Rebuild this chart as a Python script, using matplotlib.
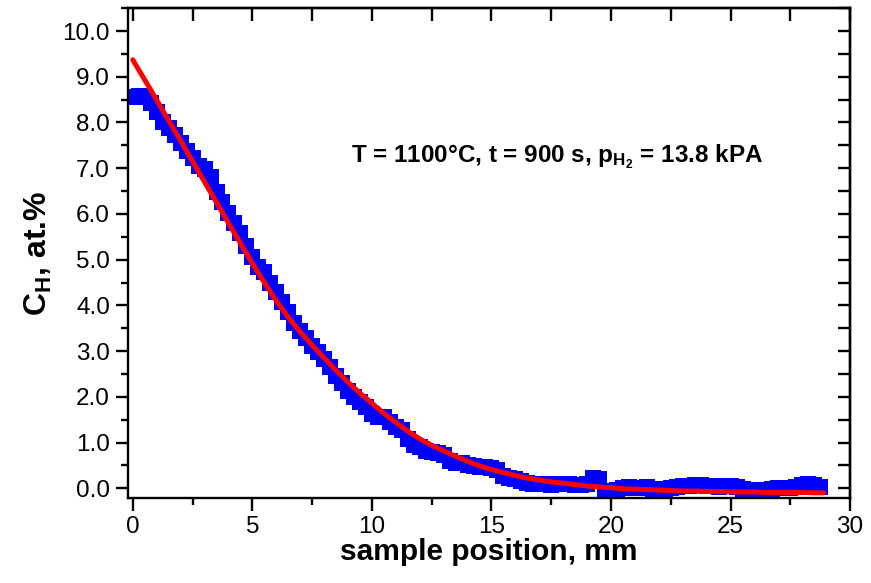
import matplotlib
matplotlib.use("Agg")
import matplotlib.pyplot as plt
from matplotlib.ticker import MultipleLocator, FormatStrFormatter

plt.rcParams["font.family"] = ["Liberation Sans", "DejaVu Sans"]
plt.rcParams["mathtext.fontset"] = "custom"
plt.rcParams["mathtext.rm"] = "Liberation Sans"
plt.rcParams["mathtext.bf"] = "Liberation Sans:bold"
plt.rcParams["mathtext.default"] = "bf"

BLUE = "#0000ff"
RED = "#ff0000"

# measured hydrogen profile (mm, at.%)
pos_mm = [
    0.00, 0.25, 0.50, 0.75, 1.00, 1.25, 1.50, 1.75, 2.00, 2.25, 2.50, 2.75,
    3.00, 3.25, 3.50, 3.75, 4.00, 4.25, 4.50, 4.75, 5.00, 5.25, 5.50, 5.75,
    6.00, 6.25, 6.50, 6.75, 7.00, 7.25, 7.50, 7.75, 8.00, 8.25, 8.50, 8.75,
    9.00, 9.25, 9.50, 9.75, 10.00, 10.25, 10.50, 10.75, 11.00, 11.25, 11.50, 11.75,
    12.00, 12.25, 12.50, 12.75, 13.00, 13.25, 13.50, 13.75, 14.00, 14.25, 14.50, 14.75,
    15.00, 15.25, 15.50, 15.75, 16.00, 16.25, 16.50, 16.75, 17.00, 17.25, 17.50, 17.75,
    18.00, 18.25, 18.50, 18.75, 19.00, 19.25, 19.50, 19.75, 20.00, 20.25, 20.50, 20.75,
    21.00, 21.25, 21.50, 21.75, 22.00, 22.25, 22.50, 22.75, 23.00, 23.25, 23.50, 23.75,
    24.00, 24.25, 24.50, 24.75, 25.00, 25.25, 25.50, 25.75, 26.00, 26.25, 26.50, 26.75,
    27.00, 27.25, 27.50, 27.75, 28.00, 28.25, 28.50, 28.75,
]
conc_meas = [
    8.55, 8.57, 8.55, 8.42, 8.22, 8.02, 7.88, 7.72, 7.55, 7.38, 7.22, 7.05,
    6.98, 6.80, 6.48, 6.25, 6.02, 5.80, 5.58, 5.30, 5.05, 4.85, 4.72, 4.50,
    4.30, 4.08, 3.86, 3.62, 3.45, 3.28, 3.12, 2.98, 2.82, 2.65, 2.45, 2.30,
    2.12, 2.00, 1.88, 1.78, 1.62, 1.56, 1.55, 1.45, 1.35, 1.28, 1.08, 0.95,
    0.90, 0.82, 0.80, 0.78, 0.72, 0.60, 0.55, 0.55, 0.52, 0.48, 0.46, 0.46,
    0.44, 0.40, 0.26, 0.22, 0.20, 0.16, 0.12, 0.10, 0.10, 0.10, 0.08, 0.10,
    0.10, 0.09, 0.08, 0.08, 0.10, 0.22, 0.20, -0.06, -0.08, -0.04, 0.00, 0.02,
    0.00, 0.00, 0.02, -0.02, -0.03, -0.02, 0.00, 0.02, 0.04, 0.06, 0.07, 0.07,
    0.06, 0.04, 0.03, 0.04, 0.04, 0.02, -0.02, -0.03, -0.04, -0.05, -0.04, -0.02,
    0.00, 0.01, 0.01, 0.03, 0.08, 0.09, 0.07, 0.03,
]

# fitted diffusion curve
fit_mm = [
    0.0, 0.5, 1.0, 1.5, 2.0, 2.5, 3.0, 3.5, 4.0, 4.5, 5.0, 5.5, 6.0, 6.5, 7.0,
    7.5, 8.0, 8.5, 9.0, 9.5, 10.0, 10.5, 11.0, 11.5, 12.0, 12.5, 13.0, 13.5,
    14.0, 14.5, 15.0, 15.5, 16.0, 16.5, 17.0, 17.5, 18.0, 18.5, 19.0, 19.5,
    20.0, 20.5, 21.0, 21.5, 22.0, 22.5, 23.0, 23.5, 24.0, 24.5, 25.0, 25.5,
    26.0, 26.5, 27.0, 27.5, 28.0, 28.5, 28.9,
]
conc_fit = [
    9.37, 8.93, 8.49, 8.04, 7.60, 7.15, 6.70, 6.25, 5.80, 5.36, 4.92, 4.50,
    4.10, 3.74, 3.42, 3.13, 2.85, 2.58, 2.32, 2.08, 1.86, 1.64, 1.44, 1.25,
    1.08, 0.94, 0.82, 0.70, 0.59, 0.49, 0.41, 0.34, 0.28, 0.22, 0.18, 0.14,
    0.11, 0.08, 0.05, 0.03, 0.01, -0.01, -0.02, -0.03, -0.04, -0.05, -0.06,
    -0.06, -0.07, -0.07, -0.08, -0.08, -0.08, -0.09, -0.09, -0.09, -0.09,
    -0.10, -0.10,
]

fig = plt.figure(figsize=(8.71, 5.83), dpi=100)
ax = fig.add_axes([0.147, 0.146, 0.829, 0.840])

ax.plot(pos_mm, conc_meas, linestyle="none", marker="s", markersize=11,
        markerfacecolor=BLUE, markeredgewidth=0, zorder=2)
ax.plot(fit_mm, conc_fit, color=RED, linewidth=3.6, solid_capstyle="round", zorder=3)

ax.set_xlim(-0.2, 30)
ax.set_ylim(-0.21, 10.5)

ax.xaxis.set_major_locator(MultipleLocator(5))
ax.xaxis.set_minor_locator(MultipleLocator(2.5))
ax.yaxis.set_major_locator(MultipleLocator(1))
ax.yaxis.set_minor_locator(MultipleLocator(0.5))
ax.yaxis.set_major_formatter(FormatStrFormatter("%.1f"))

for s in ax.spines.values():
    s.set_linewidth(1.7)

# left/bottom ticks outward, top/right inward
ax.tick_params(axis="both", which="major", labelsize=17.5, width=1.7, length=9,
               direction="out", top=False, right=False, pad=4)
ax.tick_params(axis="both", which="minor", width=1.7, length=5,
               direction="out", top=False, right=False)

ax_top = ax.secondary_xaxis("top")
ax_top.xaxis.set_major_locator(MultipleLocator(5))
ax_top.xaxis.set_minor_locator(MultipleLocator(2.5))
ax_top.tick_params(which="both", direction="in", length=9, width=1.7, labeltop=False)
ax_top.spines["top"].set_linewidth(1.7)

ax_right = ax.secondary_yaxis("right")
ax_right.yaxis.set_major_locator(MultipleLocator(1))
ax_right.yaxis.set_minor_locator(MultipleLocator(0.5))
ax_right.tick_params(which="both", direction="in", length=9, width=1.7, labelright=False)
ax_right.spines["right"].set_linewidth(1.7)

ax.set_xlabel("sample position, mm", fontsize=21.5, fontweight="bold", labelpad=0)
ax.set_ylabel(r"C$_{H}$, at.%", fontsize=23, fontweight="bold", labelpad=6)

ax.text(17.75, 7.25, r"T = 1100°C, t = 900 s, p$_{H_2}$ = 13.8 kPA",
        fontsize=17.5, fontweight="bold", ha="center", va="center")

fig.savefig("out.png", dpi=100, facecolor="white")
